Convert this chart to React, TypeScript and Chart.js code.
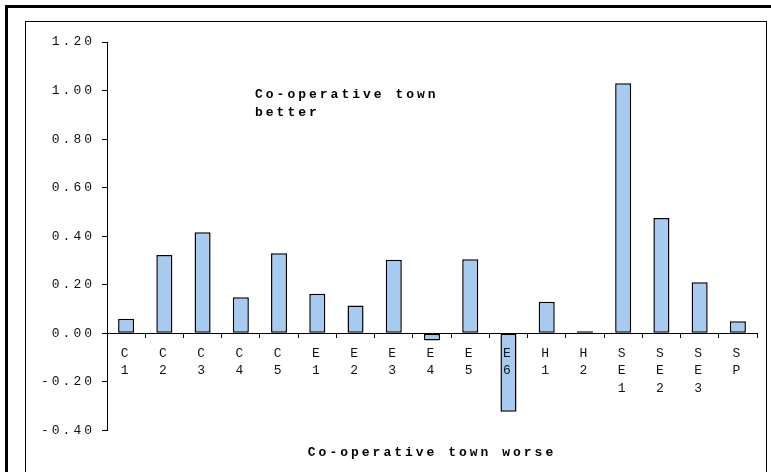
import React, { useEffect, useRef } from "react";
import { Chart, registerables } from "chart.js";

Chart.register(...registerables);

const categories: string[][] = [
  ["C", "1"], ["C", "2"], ["C", "3"], ["C", "4"], ["C", "5"],
  ["E", "1"], ["E", "2"], ["E", "3"], ["E", "4"], ["E", "5"], ["E", "6"],
  ["H", "1"], ["H", "2"],
  ["S", "E", "1"], ["S", "E", "2"], ["S", "E", "3"], ["S", "P"],
];

const values: number[] = [
  0.06, 0.323, 0.416, 0.148, 0.33,
  0.163, 0.115, 0.303, -0.03, 0.305, -0.323,
  0.13, 0.008,
  1.03, 0.475, 0.21, 0.05,
];

const yMin = -0.4;
const yMax = 1.2;
const yStep = 0.2;

const upperNote: string[] = ["Co-operative town", "better"];
const lowerNote = "Co-operative town worse";

const FONT = '"Liberation Mono", "Courier New", monospace';
const SPACING = "3px";

const spacingPlugin = {
  id: "letterSpacing",
  beforeLayout(chart: any) {
    chart.ctx.letterSpacing = SPACING;
  },
  beforeDraw(chart: any) {
    chart.ctx.letterSpacing = SPACING;
  },
};

const notePlugin = {
  id: "upperNote",
  afterDraw(chart: any) {
    const ctx = chart.ctx;
    const area = chart.chartArea;
    const y = chart.scales.y;
    ctx.save();
    ctx.letterSpacing = SPACING;
    ctx.font = `bold 13px ${FONT}`;
    ctx.fillStyle = "#000";
    ctx.textAlign = "left";
    ctx.textBaseline = "alphabetic";
    const x0 = area.left + 148;
    const yBase = y.getPixelForValue(1.0) + 7;
    upperNote.forEach((line, i) => {
      ctx.fillText(line, x0, yBase + i * 18);
    });
    ctx.restore();
  },
};

export default function App() {
  const ref = useRef<HTMLCanvasElement | null>(null);

  useEffect(() => {
    if (!ref.current) return;
    const chart = new Chart(ref.current, {
      type: "bar",
      data: {
        labels: categories,
        datasets: [
          {
            data: values,
            backgroundColor: "#A6CAF0",
            borderColor: "#000",
            borderWidth: 1.5,
            borderSkipped: false,
            categoryPercentage: 1,
            barPercentage: 0.42,
          },
        ],
      },
      options: {
        animation: false,
        responsive: false,
        layout: { padding: { left: 0, top: 42, right: 14, bottom: 0 } },
        plugins: {
          legend: { display: false },
          tooltip: { enabled: false },
          title: {
            display: true,
            position: "bottom",
            fullSize: false,
            text: lowerNote,
            color: "#000",
            font: { family: FONT, size: 13, weight: "bold", lineHeight: 1.2 },
            padding: { top: 15, bottom: 11 },
          },
        },
        scales: {
          x: {
            type: "category",
            position: { y: 0 } as any,
            offset: true,
            grid: {
              offset: true,
              drawOnChartArea: false,
              drawTicks: true,
              tickLength: 4,
              color: "#000",
              z: 1,
            },
            border: { display: true, color: "#000", width: 1, z: 1 },
            ticks: {
              autoSkip: false,
              maxRotation: 0,
              minRotation: 0,
              padding: 7,
              color: "#111",
              z: 1,
              font: { family: FONT, size: 13, lineHeight: 1.35 },
            },
            afterFit: (scale: any) => {
              scale.height = 0;
            },
          },
          y: {
            min: yMin,
            max: yMax,
            grid: {
              drawOnChartArea: false,
              drawTicks: true,
              tickLength: 5,
              color: "#000",
            },
            border: { display: true, color: "#000", width: 1 },
            ticks: {
              stepSize: yStep,
              padding: 7,
              color: "#111",
              font: { family: FONT, size: 13 },
              callback: (v: any) => Number(v).toFixed(2),
            },
            afterFit: (scale: any) => {
              scale.width = 107;
            },
          },
        },
      },
      plugins: [spacingPlugin, notePlugin],
    });
    return () => chart.destroy();
  }, []);

  return (
    <div
      style={{
        position: "fixed",
        left: 0,
        top: 0,
        width: 771,
        height: 472,
        overflow: "hidden",
        background: "#fff",
      }}
    >
      <div
        style={{
          position: "absolute",
          left: 5,
          top: 5,
          width: 900,
          height: 600,
          border: "3px solid #000",
        }}
      />
      <div
        style={{
          position: "absolute",
          left: 25,
          top: 21,
          width: 740,
          height: 600,
          border: "1px solid #000",
        }}
      />
      <canvas
        ref={ref}
        width={771}
        height={472}
        style={{ position: "absolute", left: 0, top: 0, display: "block" }}
      />
    </div>
  );
}
